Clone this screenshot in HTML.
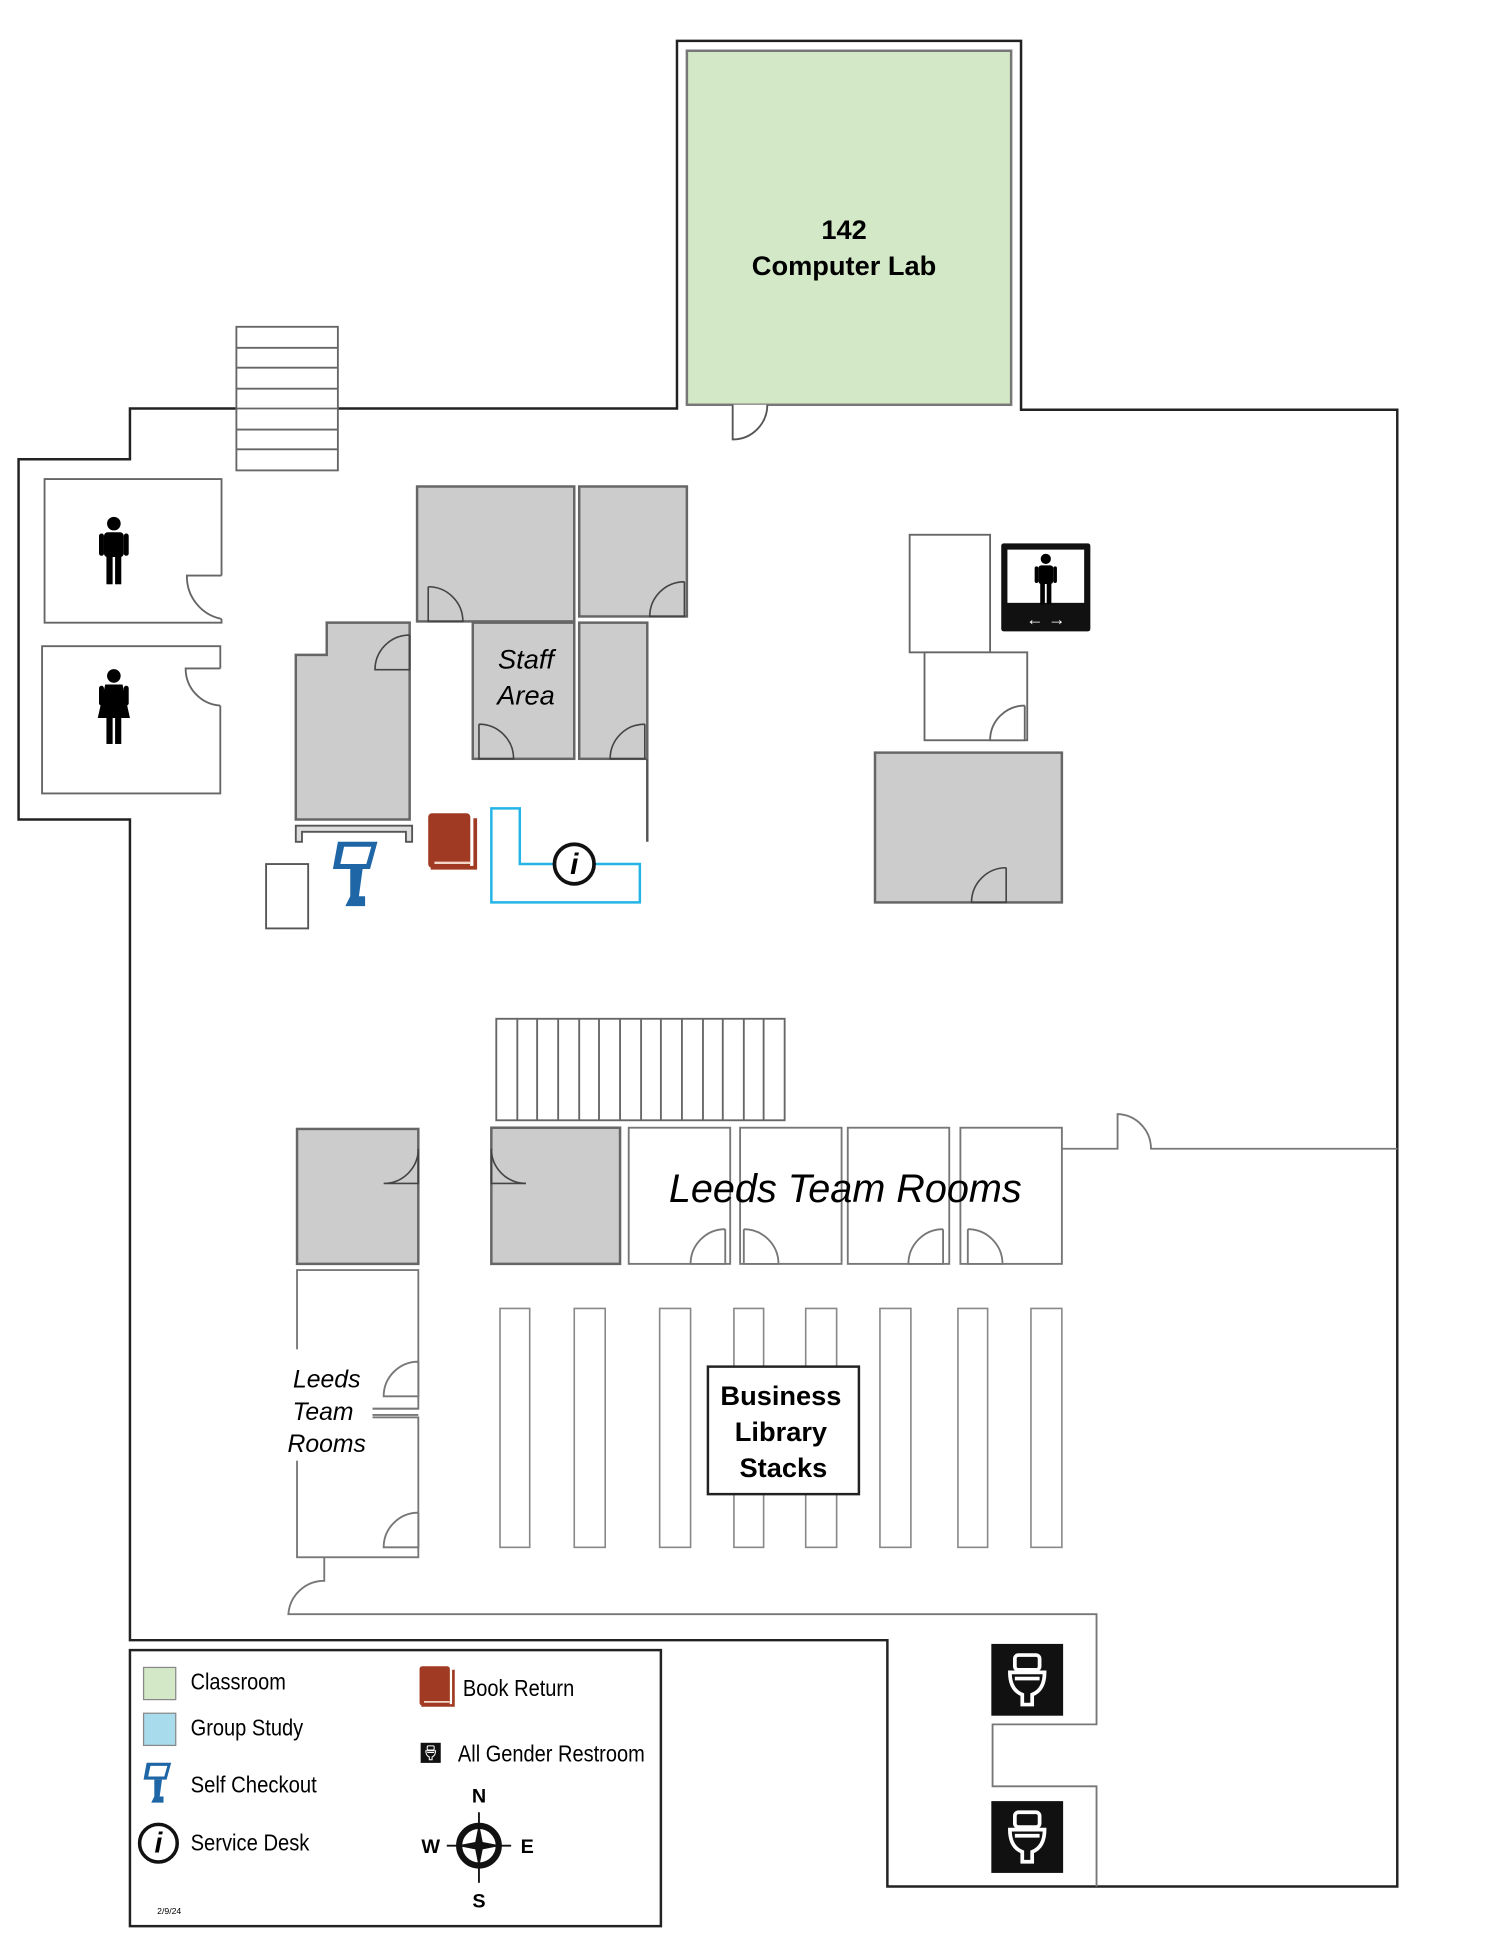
<!DOCTYPE html>
<html><head><meta charset="utf-8"><style>
html,body{margin:0;padding:0;background:#fff}
svg{display:block}
text{font-family:"Liberation Sans",sans-serif}
</style></head><body>
<svg width="1500" height="1941" viewBox="0 0 1212 1568" preserveAspectRatio="none" xmlns="http://www.w3.org/2000/svg">
<defs>
<g id="man"><circle cx="0" cy="-22" r="5.5"/><rect x="-8" y="-15" width="16" height="20" rx="3"/><rect x="-6" y="3" width="5" height="24"/><rect x="1" y="3" width="5" height="24"/><rect x="-12" y="-14" width="4" height="18" rx="2"/><rect x="8" y="-14" width="4" height="18" rx="2"/></g>
<g id="toilet"><rect x="-29" y="-29" width="58" height="58" fill="#111"/><g fill="none" stroke="#fff" stroke-width="3"><rect x="-10" y="-20" width="20" height="12" rx="3"/><path d="M-14 -6 H14 Q14 8 4 12 V20 H-4 V12 Q-14 8 -14 -6Z"/><line x1="-10" y1="-1" x2="10" y2="-1"/></g></g>
<g id="kiosk"><path d="M4 0 H36 L30 22 H0Z" fill="#1f66a6"/><path d="M9 4 H31 L27 18 H6Z" fill="#fff"/><path d="M14 22 H24 L21 44 H26 V52 H10 L14 44Z" fill="#1f66a6"/></g>
<g id="book"><rect x="0" y="0" width="34" height="44" rx="3" fill="#a03a22"/><path d="M2 44 H38 V4" fill="none" stroke="#a03a22" stroke-width="3"/><line x1="5" y1="40" x2="34" y2="40" stroke="#f3d6c8" stroke-width="2"/></g>
<g id="info"><circle r="16" fill="#fff" stroke="#111" stroke-width="3"/><text x="0" y="8" font-size="24" font-style="italic" font-weight="bold" text-anchor="middle" font-family="Liberation Serif,serif">i</text></g>
</defs>
<g fill="none" stroke="#222" stroke-width="2">
<path d="M547 330 V33 H825 V331 H1129 V1524 H717 V1325 H105 V662 H15 V371 H105 V330 Z"/>
</g>
<rect x="555" y="41" width="262" height="286" fill="#d2e8c6" stroke="#777" stroke-width="2"/>
<path d="M592 327 V355 A28 28 0 0 0 620 327" fill="#fff" stroke="#555" stroke-width="1.5"/>
<text x="682" y="193" font-size="22" font-weight="bold" text-anchor="middle">142</text>
<text x="682" y="222" font-size="22" font-weight="bold" text-anchor="middle">Computer Lab</text>
<g fill="#fff" stroke="#666" stroke-width="1.5">
<rect x="191" y="264" width="82" height="116"/>
<path d="M191 281H273M191 297H273M191 314H273M191 330H273M191 347H273M191 363H273"/>
</g>
<g fill="#fff" stroke="#666" stroke-width="1.5">
<path d="M179 465 V387 H36 V503 H179 V500"/>
<path d="M179 465 H151 A35 35 0 0 0 179 500"/>
<path d="M178 570 V641 H34 V522 H178 V540"/>
<path d="M178 540 H150 A30 30 0 0 0 178 570"/>
</g>
<use href="#man" x="92" y="445"/>
<g transform="translate(92,568)"><circle cx="0" cy="-22" r="5.5"/><path d="M-7 -15 H7 L13 12 H-13Z"/><rect x="-6" y="10" width="5" height="23"/><rect x="1" y="10" width="5" height="23"/><rect x="-12" y="-14" width="4" height="16" rx="2"/><rect x="8" y="-14" width="4" height="16" rx="2"/></g>
<g fill="#cccccc" stroke="#666" stroke-width="2">
<rect x="337" y="393" width="127" height="109"/>
<rect x="468" y="393" width="87" height="105"/>
<rect x="382" y="503" width="82" height="110"/>
<rect x="468" y="503" width="55" height="110"/>
<path d="M239 529 H264 V503 H331 V662 H239Z"/>
<rect x="707" y="608" width="151" height="121"/>
<rect x="240" y="912" width="98" height="109"/>
<rect x="397" y="911" width="104" height="110"/>
</g>
<g fill="none" stroke="#444" stroke-width="1.3">
<path d="M346 474 V502 H374 A28 28 0 0 0 346 474"/>
<path d="M553 470 V498 H525 A28 28 0 0 1 553 470"/>
<path d="M387 585 V613 H415 A28 28 0 0 0 387 585"/>
<path d="M521 585 V613 H493 A28 28 0 0 1 521 585"/>
<path d="M331 513 V541 H303 A28 28 0 0 1 331 513"/>
<path d="M813 701 V729 H785 A28 28 0 0 1 813 701"/>
<path d="M338 928 V956 H310 A28 28 0 0 0 338 928"/>
<path d="M397 928 V956 H425 A28 28 0 0 1 397 928"/>
</g>
<path d="M523 613 V680" stroke="#555" stroke-width="2"/>
<path d="M239 667 H333 V680 H328 V672 H244 V680 H239Z" fill="#ddd" stroke="#555" stroke-width="1.5"/>
<text x="425" y="540" font-size="22" font-style="italic" text-anchor="middle">Staff</text>
<text x="425" y="569" font-size="22" font-style="italic" text-anchor="middle">Area</text>
<rect x="215" y="698" width="34" height="52" fill="#fff" stroke="#555" stroke-width="1.5"/>
<use href="#kiosk" x="269" y="680"/>
<use href="#book" x="346" y="657"/>
<path d="M397 653 H420 V698 H517 V729 H397Z" fill="none" stroke="#23b5e6" stroke-width="2"/>
<use href="#info" x="464" y="698"/>
<g fill="#fff" stroke="#666" stroke-width="1.5">
<rect x="735" y="432" width="65" height="95"/>
<rect x="747" y="527" width="83" height="71"/>
<path d="M828 570 V598 H800 A28 28 0 0 1 828 570"/>
</g>
<rect x="809" y="439" width="72" height="71" rx="2" fill="#111"/>
<rect x="814" y="444" width="62" height="43" fill="#fff"/>
<g transform="translate(845,468) scale(0.75)"><use href="#man"/></g>
<text x="845" y="505" font-size="14" fill="#fff" text-anchor="middle" font-weight="bold">&#8592; &#8594;</text>
<g fill="#fff" stroke="#666" stroke-width="1.5">
<rect x="401" y="823" width="233" height="82"/>
<path d="M418 823V905M434 823V905M451 823V905M468 823V905M484 823V905M501 823V905M518 823V905M534 823V905M551 823V905M568 823V905M584 823V905M601 823V905M617 823V905"/>
</g>
<g fill="#fff" stroke="#777" stroke-width="1.5">
<rect x="508" y="911" width="82" height="110"/>
<rect x="598" y="911" width="82" height="110"/>
<rect x="685" y="911" width="82" height="110"/>
<rect x="776" y="911" width="82" height="110"/>
<path d="M586 993 V1021 H558 A28 28 0 0 1 586 993"/>
<path d="M601 993 V1021 H629 A28 28 0 0 0 601 993"/>
<path d="M762 993 V1021 H734 A28 28 0 0 1 762 993"/>
<path d="M782 993 V1021 H810 A28 28 0 0 0 782 993"/>
<path d="M858 928 H903 V900 A28 28 0 0 1 930 928 H1129" fill="none"/>
<rect x="240" y="1026" width="98" height="112"/>
<rect x="240" y="1145" width="98" height="113"/>
<path d="M338 1100 V1128 H310 A28 28 0 0 1 338 1100"/>
<path d="M338 1222 V1250 H310 A28 28 0 0 1 338 1222"/>
<path d="M300 1138 H338 M300 1143 H338"/>
<path d="M262 1258 V1277 A29 29 0 0 0 233 1304 H886 V1393 H802 V1443 H886 V1524" fill="none"/>
</g>
<rect x="229" y="1090" width="72" height="90" fill="#fff"/>
<text x="683" y="971" font-size="32" font-style="italic" text-anchor="middle">Leeds Team Rooms</text>
<text x="264" y="1121" font-size="20" font-style="italic" text-anchor="middle">Leeds</text>
<text x="261" y="1147" font-size="20" font-style="italic" text-anchor="middle">Team</text>
<text x="264" y="1173" font-size="20" font-style="italic" text-anchor="middle">Rooms</text>
<g fill="#fff" stroke="#888" stroke-width="1.3">
<rect x="404" y="1057" width="24" height="193"/>
<rect x="464" y="1057" width="25" height="193"/>
<rect x="533" y="1057" width="25" height="193"/>
<rect x="593" y="1057" width="24" height="193"/>
<rect x="651" y="1057" width="25" height="193"/>
<rect x="711" y="1057" width="25" height="193"/>
<rect x="774" y="1057" width="24" height="193"/>
<rect x="833" y="1057" width="25" height="193"/>
</g>
<rect x="572" y="1104" width="122" height="103" fill="#fff" stroke="#222" stroke-width="2"/>
<text x="631" y="1135" font-size="22" font-weight="bold" text-anchor="middle">Business</text>
<text x="631" y="1164" font-size="22" font-weight="bold" text-anchor="middle">Library</text>
<text x="633" y="1193" font-size="22" font-weight="bold" text-anchor="middle">Stacks</text>
<use href="#toilet" x="830" y="1357"/>
<use href="#toilet" x="830" y="1484"/>
<rect x="105" y="1333" width="429" height="223" fill="#fff" stroke="#222" stroke-width="2"/>
<rect x="116" y="1347" width="26" height="26" fill="#d2e8c6" stroke="#888"/>
<rect x="116" y="1384" width="26" height="26" fill="#a8dcec" stroke="#888"/>
<g font-size="19">
<text x="154" y="1365" textLength="77" lengthAdjust="spacingAndGlyphs">Classroom</text>
<text x="154" y="1402" textLength="91" lengthAdjust="spacingAndGlyphs">Group Study</text>
<text x="154" y="1448" textLength="102" lengthAdjust="spacingAndGlyphs">Self Checkout</text>
<text x="154" y="1495" textLength="96" lengthAdjust="spacingAndGlyphs">Service Desk</text>
<text x="374" y="1370" textLength="90" lengthAdjust="spacingAndGlyphs">Book Return</text>
<text x="370" y="1423" textLength="151" lengthAdjust="spacingAndGlyphs">All Gender Restroom</text>
</g>
<g transform="translate(116,1424) scale(0.62)"><use href="#kiosk"/></g>
<g transform="translate(128,1489) scale(0.95)"><use href="#info"/></g>
<g transform="translate(339,1346) scale(0.72)"><use href="#book"/></g>
<g transform="translate(348,1416) scale(0.28)"><use href="#toilet"/></g>
<text x="127" y="1546" font-size="7">2/9/24</text>
<g transform="translate(387,1491)">
<line x1="-26" y1="0" x2="26" y2="0" stroke="#111" stroke-width="1.5"/>
<line x1="0" y1="-27" x2="0" y2="30" stroke="#111" stroke-width="1.5"/>
<circle r="16" fill="none" stroke="#111" stroke-width="5"/>
<path d="M0 -18 L3 -3 L18 0 L3 3 L0 18 L-3 3 L-18 0 L-3 -3Z" fill="#111"/>
<text x="0" y="-35" font-size="16" font-weight="bold" text-anchor="middle">N</text>
<text x="0" y="50" font-size="16" font-weight="bold" text-anchor="middle">S</text>
<text x="-39" y="6" font-size="16" font-weight="bold" text-anchor="middle">W</text>
<text x="39" y="6" font-size="16" font-weight="bold" text-anchor="middle">E</text>
</g>
</svg>
</body></html>
